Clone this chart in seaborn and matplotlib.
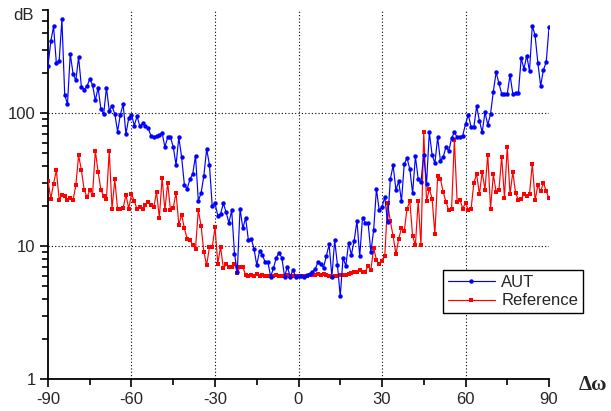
import numpy as np
import pandas as pd
import seaborn as sns
import matplotlib.pyplot as plt
from matplotlib.ticker import LogLocator, NullFormatter, FixedLocator

# angle offset in degrees, one sample per degree
angles = list(range(-90, 91))

aut = [227, 348, 451, 239, 247, 509, 138, 117, 281, 199,
       177, 265, 158, 151, 160, 181, 164, 125, 156, 108,
       99, 156, 105, 113, 99, 73, 98, 117, 70, 92,
       98, 81, 95, 80, 84, 80, 77, 68, 66, 68,
       69, 71, 56, 66, 66, 56, 41, 66, 47, 29,
       27, 32, 35, 48, 22, 25, 34, 54, 41, 20,
       21, 17, 17.5, 21, 18, 15, 18.6, 8.8, 6.4, 19.2,
       13.6, 16.4, 11.1, 11.4, 9.6, 7.2, 9.2, 8.6, 7.6, 7.6,
       5.9, 6.8, 8.2, 8.9, 8.2, 5.9, 7.0, 5.9, 6.6, 5.9,
       6.0,
       6.0, 5.9, 6.1, 6.2, 6.4, 6.7, 7.6, 7.3, 6.9, 8.4,
       10.3, 5.9, 11.1, 7.2, 4.2, 8.2, 7.1, 10.6, 8.6, 11.0,
       15.5, 8.4, 16.4, 15.0, 15.0, 9.0, 13.2, 27, 18.6, 19.7,
       23.5, 15.2, 32, 40.6, 26.5, 30.7, 21.8, 41.8, 46, 38,
       25, 47.5, 32, 30.4, 49, 29.6, 72, 48.8, 42, 66,
       43.7, 47, 56, 52, 65, 72, 66, 66, 68, 83,
       98, 79, 79, 113, 88, 72, 102, 82, 99, 146,
       204, 169, 140, 140, 140, 195, 140, 142, 142, 260,
       216, 272, 208, 457, 386, 240, 161, 213, 243, 443]

reference = [31, 22.8, 29.6, 37.3, 22.4, 24.4, 23.9, 22.4, 23.2, 22.2,
             28.7, 48.3, 37.3, 26.6, 23.4, 26.3, 24.2, 52.4, 36.2, 26.6,
             23.8, 22.8, 52, 19.2, 31.8, 19, 19, 19.4, 24.4, 19.2,
             24.6, 21.9, 19, 19.7, 19, 20.3, 21.5, 20.3, 19.7, 25.6,
             16.4, 32.8, 18.6, 30, 18.6, 19.4, 25.3, 14.5, 17.3, 13.6,
             11.4, 11.1, 10.2, 9.6, 18.6, 14.3, 9.0, 7.2, 9.8, 9.8,
             13.9, 7.4, 9.9, 6.8, 7.3, 7.0, 7.0, 7.4, 6.3, 7.0,
             7.0, 6.05, 6.0, 6.1, 6.0, 6.2, 6.0, 6.1, 6.0, 6.0,
             6.0, 6.0, 6.1, 6.0, 6.0, 6.0, 6.1, 6.0, 6.0, 6.0,
             6.0,
             5.95, 6.0, 6.0, 6.05, 6.05, 6.1, 6.2, 6.05, 6.2, 6.1,
             5.95, 5.9, 6.0, 6.0, 6.05, 6.05, 6.1, 6.2, 6.3, 6.4,
             6.4, 6.6, 6.4, 6.4, 7.1, 6.6, 9.7, 7.9, 7.3, 7.7,
             8.4, 21.2, 15.4, 11.9, 8.7, 11.3, 13.7, 13.0, 19.2, 21.8,
             11.9, 10.2, 21.8, 10.2, 72, 21.8, 27, 22.8, 12.3, 34,
             32, 25.6, 21.5, 18.6, 19.2, 63, 21.5, 22.4, 19.2, 21.2,
             18.6, 19, 30, 35, 24.6, 36.2, 26.6, 49, 19.2, 34.7,
             25.6, 26.3, 47, 23.2, 56, 24.6, 36.2, 25, 22.4, 22.8,
             24.6, 23.9, 24.8, 41.8, 22.2, 28.7, 25.9, 30, 25.9, 23]

series_names = ["AUT", "Reference"]
series_colors = {"AUT": "#0000ff", "Reference": "#ff0000"}
series_markers = {"AUT": "o", "Reference": "s"}

df = pd.DataFrame({
    "angle": angles + angles,
    "value": aut + reference,
    "series": ["AUT"] * len(angles) + ["Reference"] * len(angles),
})

sns.set_theme(style="ticks")
plt.rcParams["font.family"] = ["Liberation Sans", "DejaVu Sans"]
plt.rcParams["axes.unicode_minus"] = False

fig = plt.figure(figsize=(6.11, 4.11), dpi=100)
ax = fig.add_axes([48 / 611, 32 / 411, (549 - 48) / 611, (379 - 10) / 411])

sns.lineplot(data=df, x="angle", y="value", hue="series", style="series",
             hue_order=series_names, style_order=series_names,
             palette=series_colors, markers=series_markers, dashes=False,
             markersize=3.2, markeredgewidth=0, linewidth=0.85, ax=ax)

# blue on top of red
lines = ax.get_lines()
lines[0].set_zorder(4)
lines[1].set_zorder(3)

ax.set_yscale("log")
ax.set_xlim(-90, 90)
ax.set_ylim(1, 600)
ax.set_xlabel("")
ax.set_ylabel("")

ax.xaxis.set_major_locator(FixedLocator([-90, -60, -30, 0, 30, 60, 90]))
ax.xaxis.set_minor_locator(FixedLocator([-75, -45, -15, 15, 45, 75]))
ax.yaxis.set_major_locator(FixedLocator([1, 10, 100]))
ax.yaxis.set_minor_locator(LogLocator(base=10, subs=np.arange(2, 10)))
ax.yaxis.set_minor_formatter(NullFormatter())
ax.set_yticklabels(["1", "10", "100"])

ax.tick_params(axis="both", which="major", direction="out", length=6,
               width=1.2, labelsize=12, color="black", pad=3)
ax.tick_params(axis="both", which="minor", direction="out", length=4,
               width=1.2, color="black")

for side in ["top", "right"]:
    ax.spines[side].set_visible(False)
for side in ["left", "bottom"]:
    ax.spines[side].set_linewidth(1.3)
    ax.spines[side].set_color("black")

ax.grid(True, which="major", color="black", linestyle=(0, (1, 2)), linewidth=0.8)
xt = ax.xaxis.get_major_ticks()
xt[0].gridline.set_visible(False)
xt[-1].gridline.set_visible(False)
ax.yaxis.get_major_ticks()[0].gridline.set_visible(False)

handles, labels = ax.get_legend_handles_labels()
ax.legend(handles, labels, loc="upper left",
          bbox_to_anchor=(443 / 611, 1 - 270 / 411),
          bbox_transform=fig.transFigure, fontsize=12, frameon=True,
          fancybox=False, edgecolor="black", framealpha=1,
          handlelength=2.8, handletextpad=0.4, borderpad=0.3,
          labelspacing=0.2, borderaxespad=0)
ax.get_legend().get_frame().set_linewidth(1.0)

fig.text(24 / 611, 1 - 15 / 411, "dB", fontsize=12, ha="center", va="center")
fig.text(593 / 611, 1 - 385 / 411, "Δω", fontsize=15, fontweight="bold",
         family=["Liberation Serif", "DejaVu Serif"], ha="center", va="center")

fig.savefig("out.png", dpi=100)
